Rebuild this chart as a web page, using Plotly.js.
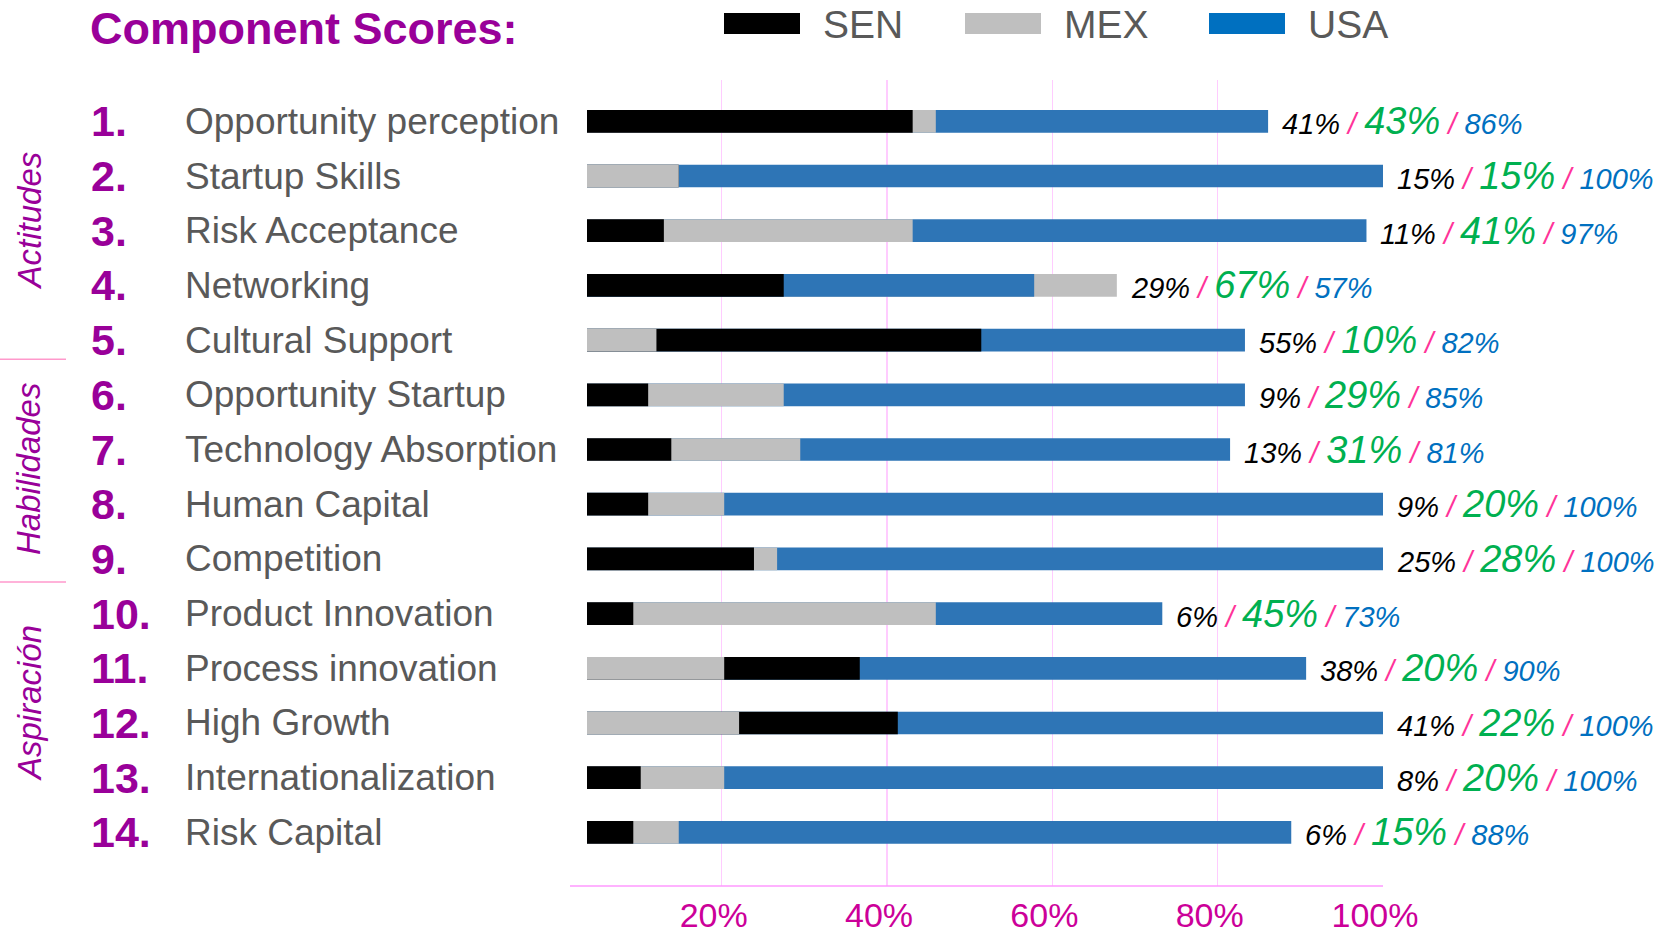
<!DOCTYPE html>
<html>
<head>
<meta charset="utf-8">
<script src="https://cdn.plot.ly/plotly-3.0.1.min.js"></script>
<style>html,body{margin:0;padding:0;background:#fff;}#chart{width:1667px;height:936px;}</style>
</head>
<body>
<div id="chart"></div>
<script>
// ---------- data ----------
var chartTitle = 'Component Scores:';
var categories = ['Opportunity perception','Startup Skills','Risk Acceptance','Networking','Cultural Support','Opportunity Startup','Technology Absorption','Human Capital','Competition','Product Innovation','Process innovation','High Growth','Internationalization','Risk Capital'];
var rankLabels = ['1.','2.','3.','4.','5.','6.','7.','8.','9.','10.','11.','12.','13.','14.'];
var seriesNames = ['SEN','MEX','USA'];
// bar lengths
var senBar = [0.431,0.148,0.130,0.275,0.514,0.111,0.139,0.111,0.239,0.093,0.367,0.413,0.102,0.093];
var mexBar = [0.459,0.148,0.431,0.678,0.121,0.275,0.295,0.203,0.267,0.459,0.203,0.221,0.203,0.148];
var usaBar = [0.861,1.000,0.980,0.578,0.833,0.833,0.815,1.000,1.000,0.733,0.907,1.000,1.000,0.889];
// printed value labels
var senLabel = ['41%','15%','11%','29%','55%','9%','13%','9%','25%','6%','38%','41%','8%','6%'];
var mexLabel = ['43%','15%','41%','67%','10%','29%','31%','20%','28%','45%','20%','22%','20%','15%'];
var usaLabel = ['86%','100%','97%','57%','82%','85%','81%','100%','100%','73%','90%','100%','100%','88%'];
var sectionNames = ['Actitudes','Habilidades','Aspiración'];
var tickVals = [0.2,0.4,0.6,0.8,1.0];
var tickText = ['20%','40%','60%','80%','100%'];

// ---------- styles ----------
var FONT = 'Liberation Sans, Arial, sans-serif';
var barColors = ['#000000','#BFBFBF','#2E75B6'];
var legendColors = ['#000000','#BFBFBF','#0070C0'];
var PURPLE = '#990099';
var L = 587, R = 1383, T = 80, B = 886;
var W = R - L, H = B - T;
function px(x){ return (x - L) / W; }
function py(y){ return (B - y) / H; }

// ---------- overlapping bars: longest at the back, shortest in front ----------
var series = [senBar, mexBar, usaBar];
var layers = [[],[],[]];
categories.forEach(function(c, i){
  var items = series.map(function(s, k){ return {v: s[i], k: k}; });
  items.sort(function(a, b){ return (b.v - a.v) || (a.k - b.k); });
  items.forEach(function(it, r){ layers[r].push(it); });
});
var traces = layers.map(function(layer, r){
  return {
    type: 'bar', orientation: 'h',
    x: layer.map(function(d){ return d.v; }),
    y: categories,
    width: 0.415,
    marker: {color: layer.map(function(d){ return barColors[d.k]; }), line: {width: 0}},
    hoverinfo: 'skip', showlegend: false
  };
});

// ---------- annotations ----------
var annotations = [];
// title
annotations.push({xref:'paper', yref:'paper', x: px(88), y: py(1), xanchor:'left', yanchor:'top', showarrow:false,
  text: '<b>' + chartTitle + '</b>', font:{family:FONT, size:45, color:PURPLE, weight:'bold'}});
categories.forEach(function(c, i){
  annotations.push({xref:'paper', yref:'y', x: px(89), y: c, xanchor:'left', yanchor:'middle', showarrow:false,
    text: '<b>' + rankLabels[i] + '</b>', font:{family:FONT, size:43, color:PURPLE, weight:'bold'}});
  annotations.push({xref:'paper', yref:'y', x: px(183), y: c, xanchor:'left', yanchor:'middle', showarrow:false,
    text: c, font:{family:FONT, size:37, color:'#595959'}});
  var xmax = Math.max(senBar[i], mexBar[i], usaBar[i]);
  var slash = '<span style="color:#FF3399"> / </span>';
  annotations.push({xref:'x', yref:'y', x: xmax, y: c, xanchor:'left', yanchor:'middle', xshift: 12, showarrow:false,
    text: '<i><span style="color:#000000">' + senLabel[i] + '</span>' + slash +
          '<span style="color:#00B050;font-size:38px">' + mexLabel[i] + '</span>' + slash +
          '<span style="color:#0070C0">' + usaLabel[i] + '</span></i>',
    font:{family:FONT, size:29, color:'#000000', style:'italic'}});
});
var sectionY = [220.5, 469, 703];
sectionNames.forEach(function(s, j){
  annotations.push({xref:'paper', yref:'paper', x: px(29), y: py(sectionY[j]), xanchor:'center', yanchor:'middle',
    textangle: -90, showarrow:false, text: '<i>' + s + '</i>', font:{family:FONT, size:33, color:PURPLE, style:'italic'}});
});
// legend
var legKeyX = [724, 965, 1209];
seriesNames.forEach(function(n, k){
  annotations.push({xref:'paper', yref:'paper', x: px(legKeyX[k] + 97), y: py(24.5), xanchor:'left', yanchor:'middle',
    showarrow:false, text: n, font:{family:FONT, size:39, color:'#595959'}});
});

// ---------- shapes ----------
var shapes = [];
[359.3, 582].forEach(function(yy){
  shapes.push({type:'line', xref:'paper', yref:'paper', x0: px(0), x1: px(66), y0: py(yy), y1: py(yy),
    line:{color:'#FF99CC', width:1.5}});
});
shapes.push({type:'line', xref:'paper', yref:'paper', x0: px(570), x1: 1, y0: 0, y1: 0,
  line:{color:'#FF99FF', width:1.5}});
seriesNames.forEach(function(n, k){
  shapes.push({type:'rect', xref:'paper', yref:'paper', x0: px(legKeyX[k]), x1: px(legKeyX[k] + 76),
    y0: py(34), y1: py(13), fillcolor: legendColors[k], line:{width:0}});
});

var layout = {
  width: 1667, height: 936,
  margin: {l: L, r: 1667 - R, t: T, b: 936 - B, pad: 0},
  paper_bgcolor: '#ffffff', plot_bgcolor: '#ffffff',
  barmode: 'overlay', showlegend: false,
  xaxis: {range: [0.037, 1.0], tickmode:'array', tickvals: tickVals, ticktext: tickText, ticks:'',
    tickfont:{family:FONT, size:34, color:'#CC0099'}, showgrid:true, gridcolor:'#FFCCFF', gridwidth:1.5,
    zeroline:false, showline:false, ticklabelshift:-8, ticklabelstandoff:6, fixedrange:true},
  yaxis: {type:'category', categoryorder:'array', categoryarray: categories, range:[13.98, -0.755],
    showticklabels:false, showgrid:false, zeroline:false, showline:false, ticks:'', fixedrange:true},
  annotations: annotations, shapes: shapes,
  font: {family: FONT}
};
Plotly.newPlot('chart', traces, layout, {displayModeBar:false, staticPlot:true});
</script>
</body>
</html>
